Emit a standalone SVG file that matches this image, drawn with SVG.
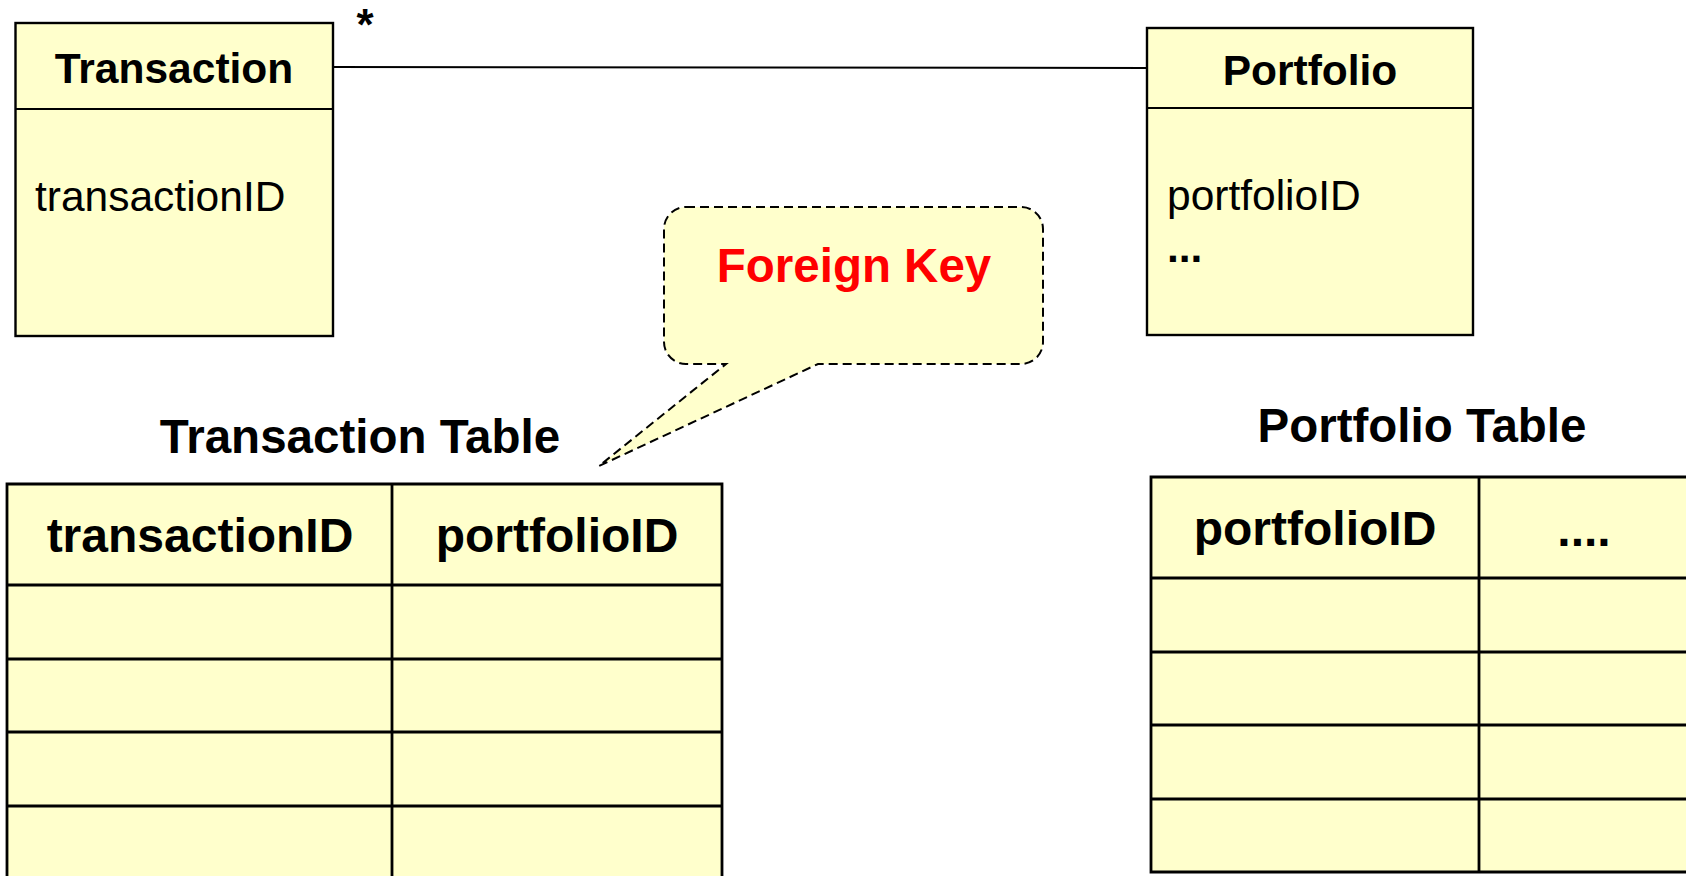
<svg xmlns="http://www.w3.org/2000/svg" width="1686" height="876" viewBox="0 0 1686 876">
<style>
.box{fill:#FFFFCC;stroke:#000;stroke-width:2.4}
.grid{fill:none;stroke:#000;stroke-width:2.8}
.ttl{font-family:"Liberation Sans",Arial,sans-serif;font-weight:bold;fill:#000}
.reg{font-family:"Liberation Sans",Arial,sans-serif;fill:#000}
.conn{stroke:#000;stroke-width:2;fill:none}
.callout{fill:#FFFFCC;stroke:#000;stroke-width:2;stroke-dasharray:9 5}
</style>
<rect width="1686" height="876" fill="#fff"/>
<g id="connectors">
<line class="conn" x1="333" y1="67" x2="1147" y2="68"/>
<text class="ttl" x="365" y="40" font-size="44" text-anchor="middle">*</text>
</g>
<g id="transaction">
<rect class="box" x="15.5" y="23" width="317.5" height="313"/>
<line class="conn" x1="15.5" y1="109" x2="333" y2="109"/>
<text class="ttl" x="174" y="83" font-size="42.5" text-anchor="middle">Transaction</text>
<text class="reg" x="35" y="211" font-size="42.5">transactionID</text>
</g>
<g id="portfolio">
<rect class="box" x="1147" y="28" width="326" height="307"/>
<line class="conn" x1="1147" y1="108" x2="1473" y2="108"/>
<text class="ttl" x="1310" y="85" font-size="42.5" text-anchor="middle">Portfolio</text>
<text class="reg" x="1167" y="210" font-size="42.5">portfolioID</text>
<text class="ttl" x="1167" y="262" font-size="42.5">...</text>
</g>
<g id="foreign-key-callout">
<path class="callout" d="M686,207 H1021 A22,22 0 0 1 1043,229 V342 A22,22 0 0 1 1021,364 H818 L599,466 L726,364 H686 A22,22 0 0 1 664,342 V229 A22,22 0 0 1 686,207 Z"/>
<text class="ttl" x="854" y="282" font-size="47.5" text-anchor="middle" style="fill:#FF0000">Foreign Key</text>
</g>
<g id="transaction-table">
<text class="ttl" x="360" y="453" font-size="47.5" text-anchor="middle">Transaction Table</text>
<rect x="7" y="484" width="715" height="400" fill="#FFFFCC"/>
<path class="grid" d="M7,890 V484 H722 V890 M392,484 V890 M7,585 H722 M7,659 H722 M7,732 H722 M7,806 H722"/>
<text class="ttl" x="200" y="552" font-size="48" text-anchor="middle">transactionID</text>
<text class="ttl" x="557" y="552" font-size="48" text-anchor="middle">portfolioID</text>
</g>
<g id="portfolio-table">
<text class="ttl" x="1422" y="442" font-size="47.5" text-anchor="middle">Portfolio Table</text>
<rect x="1151" y="477" width="545" height="395" fill="#FFFFCC"/>
<path class="grid" d="M1700,477 H1151 V872 H1700 M1479,477 V872 M1151,578 H1700 M1151,652 H1700 M1151,725 H1700 M1151,799 H1700"/>
<text class="ttl" x="1315" y="545" font-size="48" text-anchor="middle">portfolioID</text>
<text class="ttl" x="1584" y="546" font-size="48" text-anchor="middle">....</text>
</g>
</svg>
